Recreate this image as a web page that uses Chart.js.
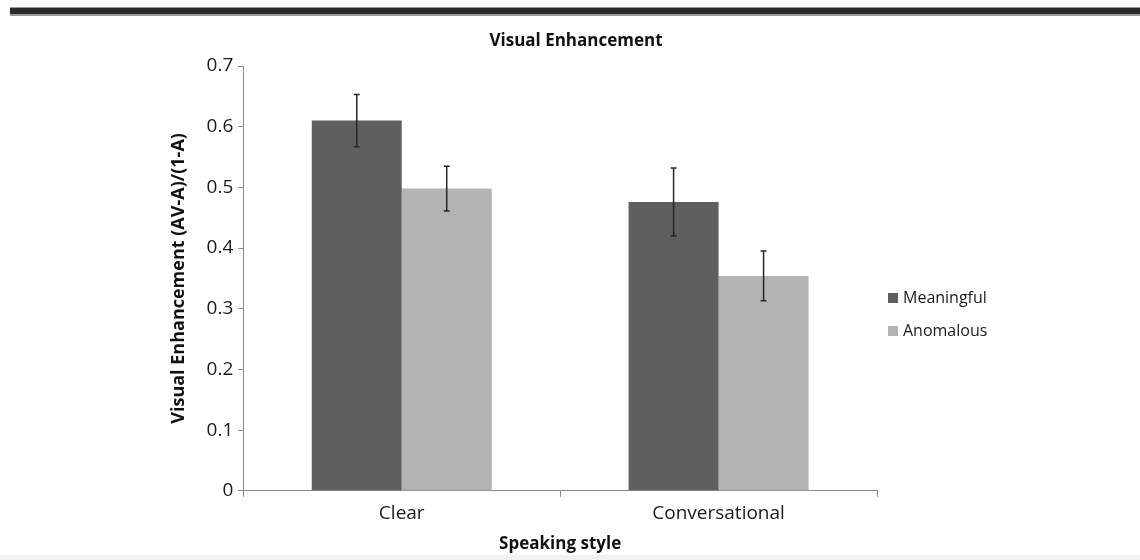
<!DOCTYPE html>
<html>
<head>
<meta charset="utf-8">
<script src="https://cdn.jsdelivr.net/npm/chart.js@4/dist/chart.umd.min.js"></script>
<style>
  html, body { margin: 0; padding: 0; background: #ffffff; }
  #wrap { width: 1140px; height: 560px; position: relative; }
</style>
</head>
<body>
<div id="wrap"><canvas id="chart" width="1140" height="560"></canvas></div>
<script>
// Speaking style categories and group means with standard errors
const categories = ['Clear', 'Conversational'];
const meaningful = [0.61, 0.476];
const anomalous = [0.498, 0.354];
const meaningfulErr = [0.043, 0.056];
const anomalousErr = [0.037, 0.041];
const yTicks = [0, 0.1, 0.2, 0.3, 0.4, 0.5, 0.6, 0.7];
const chartTitle = 'Visual Enhancement';

const FONT = '"Open Sans", "DejaVu Sans", sans-serif';
const DARK = '#5f5f5f';
const LIGHT = '#b3b3b3';

// Error bars drawn at each bar's centre, using the value scale
const errorBars = {
  id: 'errorBars',
  afterDatasetsDraw(chart) {
    const ctx = chart.ctx;
    const y = chart.scales.y;
    const errs = [meaningfulErr, anomalousErr];
    ctx.save();
    ctx.strokeStyle = '#262626';
    ctx.lineWidth = 1.5;
    chart.data.datasets.forEach((ds, di) => {
      const meta = chart.getDatasetMeta(di);
      meta.data.forEach((bar, i) => {
        const v = ds.data[i], e = errs[di][i];
        const yt = y.getPixelForValue(v + e);
        const yb = y.getPixelForValue(v - e);
        const x = bar.x;
        ctx.beginPath();
        ctx.moveTo(x, yt); ctx.lineTo(x, yb);
        ctx.moveTo(x - 3, yt); ctx.lineTo(x + 3, yt);
        ctx.moveTo(x - 3, yb); ctx.lineTo(x + 3, yb);
        ctx.stroke();
      });
    });
    ctx.restore();
  }
};

// Heavy rule across the top, page-centred title, side legend and bottom band
const decorations = {
  id: 'decorations',
  beforeDraw(chart) {
    const ctx = chart.ctx;
    ctx.save();
    ctx.fillStyle = '#ffffff';
    ctx.fillRect(0, 0, chart.width, chart.height);
    ctx.fillStyle = '#9a9a9a';
    ctx.fillRect(10, 7, chart.width - 10, 9);
    ctx.fillStyle = '#2b2b2b';
    ctx.fillRect(10, 8, chart.width - 10, 6);
    ctx.fillStyle = '#eef4f4';
    ctx.fillRect(0, 555, chart.width, 5);
    ctx.restore();
  },
  afterDraw(chart) {
    const ctx = chart.ctx;
    ctx.save();
    ctx.font = 'bold 17px ' + FONT;
    ctx.fillStyle = '#111';
    ctx.textAlign = 'center';
    ctx.textBaseline = 'middle';
    ctx.fillText(chartTitle, 576, 41);

    ctx.font = '16px ' + FONT;
    ctx.textAlign = 'left';
    const x0 = 888, ys = [298, 331];
    chart.data.datasets.forEach((ds, i) => {
      ctx.fillStyle = ds.backgroundColor;
      ctx.fillRect(x0, ys[i] - 5, 10, 10);
      ctx.fillStyle = '#1a1a1a';
      ctx.fillText(ds.label, x0 + 15, ys[i]);
    });
    ctx.restore();
  }
};

new Chart(document.getElementById('chart'), {
  type: 'bar',
  data: {
    labels: categories,
    datasets: [
      { label: 'Meaningful', data: meaningful, backgroundColor: DARK },
      { label: 'Anomalous', data: anomalous, backgroundColor: LIGHT }
    ]
  },
  options: {
    responsive: false,
    animation: false,
    layout: { padding: { top: 66, left: 168, right: 263, bottom: 6 } },
    datasets: { bar: { categoryPercentage: 0.568, barPercentage: 1.0 } },
    plugins: {
      legend: { display: false },
      tooltip: { enabled: false },
      title: { display: false }
    },
    scales: {
      x: {
        grid: { display: true, drawOnChartArea: false, offset: true, tickLength: 6, color: '#8a8a8a' },
        border: { display: true, color: '#8a8a8a', width: 1 },
        ticks: { color: '#1a1a1a', font: { family: FONT, size: 19 }, padding: 5 },
        title: {
          display: true,
          text: 'Speaking style',
          color: '#111',
          font: { family: FONT, size: 17, weight: 'bold' },
          padding: { top: 4, bottom: 0 }
        }
      },
      y: {
        min: 0,
        max: 0.7,
        afterBuildTicks(scale) { scale.ticks = yTicks.map(v => ({ value: v })); },
        grid: { display: true, drawOnChartArea: false, tickLength: 5, color: '#8a8a8a' },
        border: { display: true, color: '#8a8a8a', width: 1 },
        ticks: {
          color: '#1a1a1a',
          font: { family: FONT, size: 19 },
          padding: 5,
          callback: v => String(+v.toFixed(1))
        },
        title: {
          display: true,
          text: 'Visual Enhancement (AV-A)/(1-A)',
          color: '#111',
          font: { family: FONT, size: 18, weight: 'bold' },
          padding: { top: 0, bottom: 12 }
        }
      }
    }
  },
  plugins: [errorBars, decorations]
});
</script>
</body>
</html>
